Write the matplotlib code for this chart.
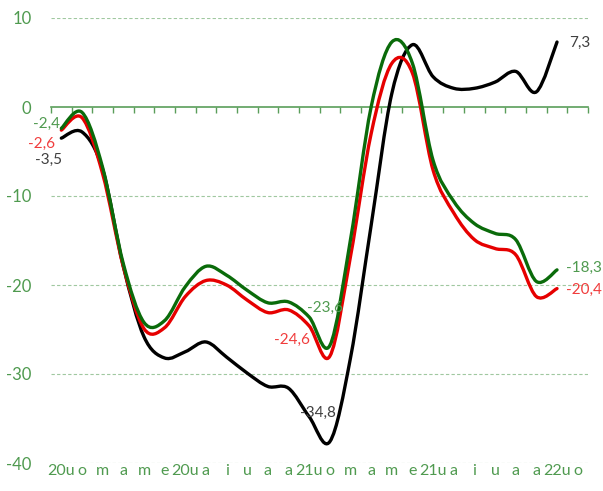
import matplotlib
matplotlib.use("Agg")
import matplotlib.pyplot as plt
from matplotlib.path import Path
from matplotlib.patches import PathPatch
import numpy as np

plt.rcParams['font.family'] = ['Lato', 'DejaVu Sans']

# ---- data ----
x_labels = ["20u", "o", "m", "a", "m", "e", "20u", "a", "i", "u", "a", "a",
            "21u", "o", "m", "a", "m", "e", "21u", "a", "i", "u", "a", "a",
            "22u", "o"]
green = [-2.4, -0.6, -6.8, -17.6, -24.2, -24.0, -20.2, -17.9, -18.9, -20.6, -22.0, -21.9,
         -23.6, -26.8, -14.9, 0.0, 7.3, 4.9, -6.0, -10.6, -13.1, -14.2, -14.9, -19.6, -18.3]
red = [-2.6, -1.2, -7.5, -17.9, -24.9, -24.8, -21.3, -19.5, -20.0, -21.7, -23.1, -22.8,
       -24.6, -28.0, -16.8, -3.0, 4.9, 3.8, -7.1, -11.9, -14.9, -15.9, -16.6, -21.3, -20.4]
black = [-3.5, -2.8, -7.0, -17.9, -25.8, -28.2, -27.5, -26.4, -28.1, -29.9, -31.4, -31.6,
         -34.8, -37.6, -28.2, -13.3, 1.5, 7.0, 3.4, 2.1, 2.1, 2.8, 4.0, 1.7, 7.3]
y_ticks = [10, 0, -10, -20, -30, -40]

# label indices: first, January 2021, last
label_idx = [0, 12, 24]

GREEN_LINE = '#0a6b0a'
RED_LINE = '#e60000'
BLACK_LINE = '#000000'
GREEN_TXT = '#4f9a4f'
RED_TXT = '#f03c3c'
BLACK_TXT = '#404040'
AXIS_GREEN = '#5a9e5a'
GRID_GREEN = '#a0c8a0'


def smooth_path(xs, ys):
    pts = np.column_stack([xs, ys]).astype(float)
    n = len(pts)
    verts = [pts[0]]
    codes = [Path.MOVETO]
    for i in range(n - 1):
        p0 = pts[i - 1] if i > 0 else pts[i]
        p1 = pts[i]
        p2 = pts[i + 1]
        p3 = pts[i + 2] if i + 2 < n else pts[i + 1]
        c1 = p1 + (p2 - p0) / 6.0
        c2 = p2 - (p3 - p1) / 6.0
        verts += [c1, c2, p2]
        codes += [Path.CURVE4] * 3
    return Path(verts, codes)


fig = plt.figure(figsize=(6.03, 4.91), dpi=100)
ax = fig.add_axes([51 / 603, 1 - 463 / 491, (588 - 51) / 603, (463 - 18) / 491])

n_cat = len(x_labels)
ax.set_xlim(-0.5, n_cat - 0.5)
ax.set_ylim(-40, 10)

# gridlines
for v in y_ticks:
    if v != 0:
        ax.axhline(v, color=GRID_GREEN, lw=0.8, ls=(0, (3, 2)), zorder=0)

xs = np.arange(len(green))
for series, col in [(black, BLACK_LINE), (red, RED_LINE), (green, GREEN_LINE)]:
    pp = PathPatch(smooth_path(xs, series), facecolor='none', edgecolor=col,
                   lw=2.4, capstyle='round', joinstyle='round', zorder=3)
    ax.add_patch(pp)

for s in ['top', 'right', 'left', 'bottom']:
    ax.spines[s].set_visible(False)

ax.set_yticks(y_ticks)
ax.set_yticklabels([str(v) for v in y_ticks])
ax.tick_params(axis='y', length=0, pad=14, labelcolor=GREEN_TXT, labelsize=12)

ax.set_xticks(np.arange(n_cat))
ax.set_xticklabels(x_labels)
ax.tick_params(axis='x', length=0, pad=1, labelcolor=GREEN_TXT, labelsize=11.5)

# axis line at zero with tick marks at category boundaries
sec = ax.secondary_xaxis(0, transform=ax.transData)
sec.set_xticks(np.arange(n_cat + 1) - 0.5)
sec.set_xticklabels([])
sec.tick_params(axis='x', direction='out', length=4, width=1, color=AXIS_GREEN)
sec.spines['bottom'].set_color(AXIS_GREEN)
sec.spines['bottom'].set_linewidth(1.2)
for s in ['top', 'left', 'right']:
    if s in sec.spines:
        sec.spines[s].set_visible(False)


def fmt(v):
    return f"{v:.1f}".replace('.', ',')


label_specs = {
    'green': [(-1, 4, 'right'), (-2, 9, 'left'), (9, 2, 'left')],
    'red': [(-6, -14, 'right'), (1, -14, 'right'), (9, -1, 'left')],
    'black': [(1, -22, 'right'), (-9, 4, 'left'), (12, -1, 'left')],
}
for name, series, col in [('green', green, GREEN_TXT), ('red', red, RED_TXT),
                          ('black', black, BLACK_TXT)]:
    for (dx, dy, ha), idx in zip(label_specs[name], label_idx):
        ax.annotate(fmt(series[idx]), xy=(idx, series[idx]), xytext=(dx, dy),
                    textcoords='offset pixels', ha=ha, va='center',
                    color=col, fontsize=11, zorder=5)

fig.savefig('out.png', dpi=100)
